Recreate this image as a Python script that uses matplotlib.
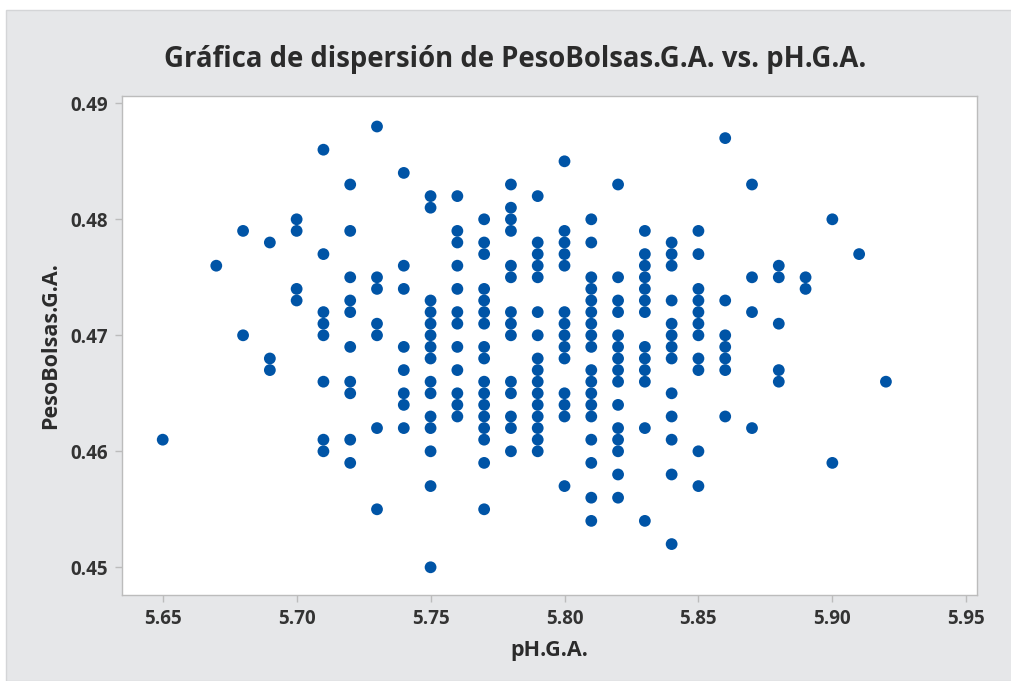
import matplotlib.pyplot as plt
from matplotlib.patches import Rectangle

# pH levels and the bag weights measured at each one
ph_levels = [5.65, 5.67, 5.68, 5.69, 5.70, 5.71, 5.72, 5.73, 5.74, 5.75,
             5.76, 5.77, 5.78, 5.79, 5.80, 5.81, 5.82, 5.83, 5.84, 5.85,
             5.86, 5.87, 5.88, 5.89, 5.90, 5.91, 5.92]

peso_565 = [0.461]
peso_567 = [0.476]
peso_568 = [0.479, 0.470]
peso_569 = [0.478, 0.468, 0.467]
peso_570 = [0.480, 0.479, 0.474, 0.473]
peso_571 = [0.486, 0.477, 0.472, 0.471, 0.470, 0.466, 0.461, 0.460]
peso_572 = [0.483, 0.479, 0.475, 0.473, 0.472, 0.469, 0.466, 0.465, 0.461, 0.459]
peso_573 = [0.488, 0.475, 0.474, 0.471, 0.470, 0.462, 0.455]
peso_574 = [0.484, 0.476, 0.474, 0.469, 0.467, 0.465, 0.464, 0.462]
peso_575 = [0.482, 0.481, 0.473, 0.472, 0.471, 0.470, 0.469, 0.468, 0.466, 0.465,
            0.463, 0.462, 0.460, 0.457, 0.450]
peso_576 = [0.482, 0.479, 0.478, 0.476, 0.474, 0.472, 0.471, 0.469, 0.467, 0.465,
            0.464, 0.463]
peso_577 = [0.480, 0.478, 0.477, 0.474, 0.473, 0.472, 0.471, 0.469, 0.468, 0.466,
            0.465, 0.464, 0.463, 0.462, 0.461, 0.459, 0.455]
peso_578 = [0.483, 0.481, 0.480, 0.479, 0.476, 0.475, 0.472, 0.471, 0.470, 0.466,
            0.465, 0.463, 0.462, 0.460]
peso_579 = [0.482, 0.478, 0.477, 0.476, 0.475, 0.472, 0.470, 0.468, 0.467, 0.466,
            0.465, 0.464, 0.463, 0.462, 0.461, 0.460]
peso_580 = [0.485, 0.479, 0.478, 0.477, 0.476, 0.472, 0.471, 0.470, 0.469, 0.468,
            0.465, 0.464, 0.463, 0.457]
peso_581 = [0.480, 0.478, 0.475, 0.474, 0.473, 0.472, 0.471, 0.470, 0.469, 0.467,
            0.466, 0.465, 0.464, 0.463, 0.461, 0.459, 0.456, 0.454]
peso_582 = [0.483, 0.475, 0.473, 0.472, 0.470, 0.469, 0.468, 0.467, 0.466, 0.464,
            0.462, 0.461, 0.460, 0.458, 0.456]
peso_583 = [0.479, 0.477, 0.476, 0.475, 0.474, 0.473, 0.472, 0.469, 0.468, 0.467,
            0.466, 0.462, 0.454]
peso_584 = [0.478, 0.477, 0.476, 0.473, 0.471, 0.470, 0.469, 0.468, 0.465, 0.463,
            0.461, 0.458, 0.452]
peso_585 = [0.479, 0.477, 0.474, 0.473, 0.472, 0.471, 0.470, 0.468, 0.467, 0.460, 0.457]
peso_586 = [0.487, 0.473, 0.470, 0.469, 0.468, 0.467, 0.463]
peso_587 = [0.483, 0.475, 0.472, 0.462]
peso_588 = [0.476, 0.475, 0.471, 0.467, 0.466]
peso_589 = [0.475, 0.474]
peso_590 = [0.480, 0.459]
peso_591 = [0.477]
peso_592 = [0.466]

peso_groups = [peso_565, peso_567, peso_568, peso_569, peso_570, peso_571, peso_572,
               peso_573, peso_574, peso_575, peso_576, peso_577, peso_578, peso_579,
               peso_580, peso_581, peso_582, peso_583, peso_584, peso_585, peso_586,
               peso_587, peso_588, peso_589, peso_590, peso_591, peso_592]

x_ticks = [5.65, 5.70, 5.75, 5.80, 5.85, 5.90, 5.95]
y_ticks = [0.45, 0.46, 0.47, 0.48, 0.49]

ph = []
peso = []
for level, group in zip(ph_levels, peso_groups):
    for w in group:
        ph.append(level)
        peso.append(w)

plt.rcParams['font.family'] = ['Open Sans', 'DejaVu Sans']

bg = '#e6e7e9'
text_col = '#2b2b2b'
frame_col = '#bcbcbc'

fig = plt.figure(figsize=(10.12, 6.81), dpi=100)
fig.patch.set_facecolor('white')
# gray panel with a thin white margin at top and left
fig.patches.append(Rectangle((6 / 1012, 0), 1 - 6 / 1012, 1 - 10 / 681,
                             transform=fig.transFigure, facecolor=bg,
                             edgecolor='#d4d5d7', linewidth=1, zorder=-10))

ax = fig.add_axes([122 / 1012, 1 - 595 / 681, (977 - 122) / 1012, (595 - 96) / 681])
ax.set_zorder(2)
ax.set_facecolor('white')
ax.scatter(ph, peso, s=72, color='#0054a6', edgecolors='none', zorder=3)

ax.set_xlim(5.6348, 5.954)
ax.set_ylim(0.44761, 0.49063)
ax.set_xticks(x_ticks)
ax.set_xticklabels([f"{v:.2f}" for v in x_ticks])
ax.set_yticks(y_ticks)
ax.set_yticklabels([f"{v:.2f}" for v in y_ticks])

for side in ['top', 'right', 'left', 'bottom']:
    ax.spines[side].set_color(frame_col)
    ax.spines[side].set_linewidth(1)
ax.tick_params(axis='both', direction='out', length=5, width=1, color=frame_col,
               labelcolor='#333333', labelsize=13.5, pad=5)
for lbl in ax.get_xticklabels() + ax.get_yticklabels():
    lbl.set_fontweight('bold')

ax.set_xlabel("pH.G.A.", fontsize=15.5, fontweight='bold', color=text_col, labelpad=8)
ax.set_ylabel("PesoBolsas.G.A.", fontsize=15.5, fontweight='bold', color=text_col, labelpad=7)
fig.text(0.509, 1 - 60 / 681, "Gráfica de dispersión de PesoBolsas.G.A. vs. pH.G.A.",
         ha='center', va='center', fontsize=19.8, fontweight='bold', color=text_col)

fig.savefig("out.png", dpi=100, facecolor=fig.get_facecolor())
